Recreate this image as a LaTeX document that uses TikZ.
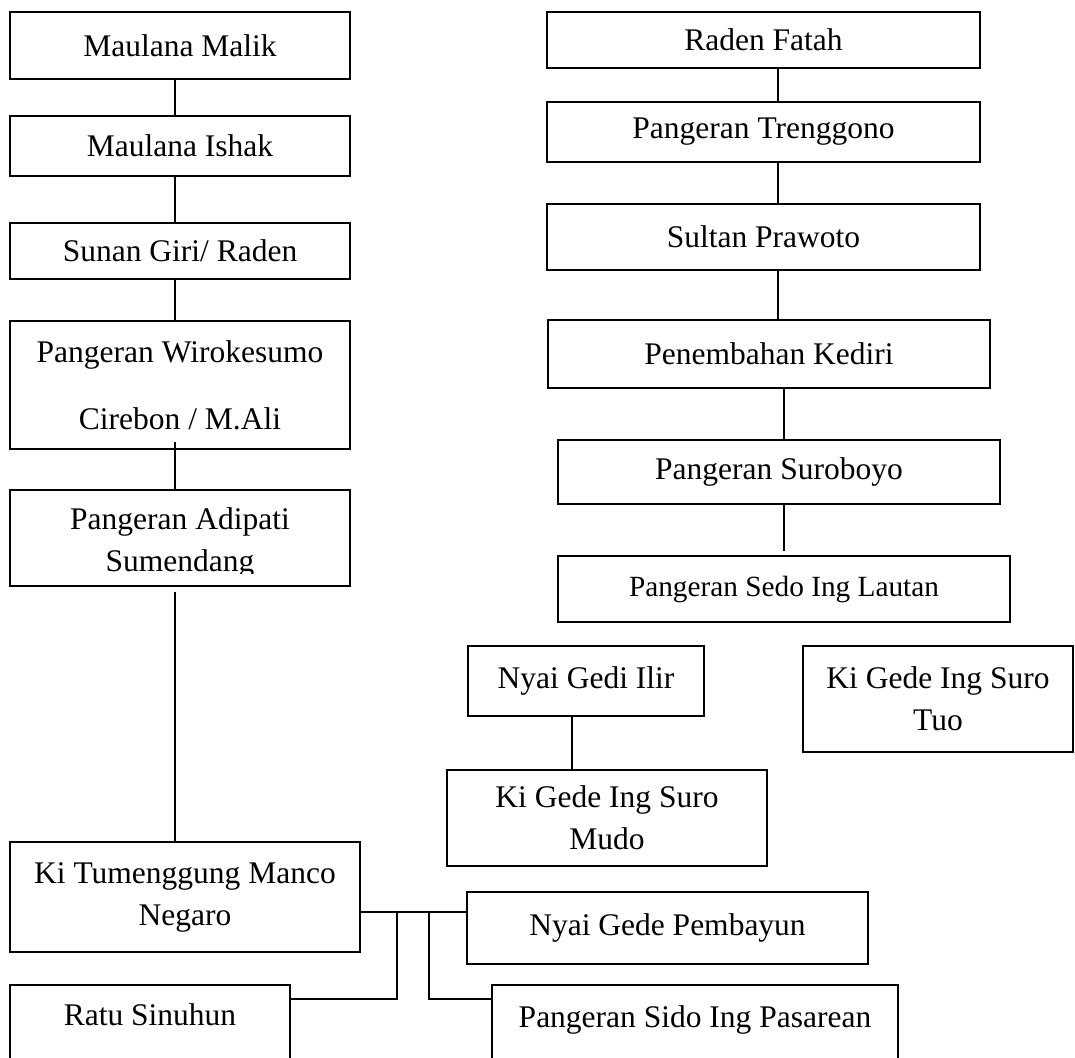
\documentclass[tikz,border=0pt]{standalone}
\usepackage{fontspec}
\setmainfont{Liberation Serif}
\usetikzlibrary{positioning, calc}

\begin{document}
\begin{tikzpicture}[
    x=1pt, y=-1pt,
    person/.style={
        rectangle,
        draw,
        line width=1.8pt,
        inner sep=0pt,
        align=center,
        font=\fontsize{31.5}{42}\selectfont
    },
    link/.style={
        line width=1.8pt
    }
]
\clip (0,0) rectangle (1075,1057);

% Left lineage
\node[person, minimum width=340pt, minimum height=67pt] (malik) at (180,45.5) {Maulana Malik};
\node[person, minimum width=340pt, minimum height=60pt] (ishak) at (180,146) {Maulana Ishak};
\node[person, minimum width=340pt, minimum height=56pt] (giri) at (180,251) {Sunan Giri/ Raden};
\node[person, minimum width=340pt, minimum height=128pt] (wiro) at (180,385) {Pangeran Wirokesumo\\[25pt]Cirebon / M.Ali};
\node[person, minimum width=340pt, minimum height=96pt] (adipati) at (180,538) {};
\begin{scope}
    \clip (10,490) rectangle (350,573);
    \node[person, draw=none] (adipatiname) at (180,543) {Pangeran Adipati\\Sumendang};
\end{scope}
\node[person, minimum width=350pt, minimum height=110pt] (tumenggung) at (185,897) {Ki Tumenggung Manco\\Negaro};

% Children of Ki Tumenggung
\node[person, minimum width=401pt, minimum height=72pt] (pembayun) at (667.5,928) {Nyai Gede Pembayun};
\node[person, anchor=north, minimum width=280pt, text height=41pt, text depth=60pt] (ratu) at (150,984) {Ratu Sinuhun};
\node[person, anchor=north, minimum width=406pt, text height=43pt, text depth=60pt] (sido) at (695,984) {Pangeran Sido Ing Pasarean};

% Right lineage
\node[person, minimum width=433pt, minimum height=56pt] (fatah) at (763.5,40) {Raden Fatah};
\node[person, minimum width=433pt, minimum height=60pt] (trenggono) at (763.5,132) {Pangeran Trenggono};
\node[person, minimum width=433pt, minimum height=66pt] (prawoto) at (763.5,237) {Sultan Prawoto};
\node[person, minimum width=442pt, minimum height=68pt] (kediri) at (769,354) {Penembahan Kediri};
\node[person, minimum width=442pt, minimum height=64pt] (suroboyo) at (779,472) {Pangeran Suroboyo};
\node[person, minimum width=452pt, minimum height=66pt, font=\fontsize{29.3}{36}\selectfont] (sedo) at (784,589) {Pangeran Sedo Ing Lautan};
\node[person, minimum width=236pt, minimum height=70pt] (gediilir) at (586,681) {Nyai Gedi Ilir};
\node[person, minimum width=320pt, minimum height=96pt] (suromudo) at (607,818) {Ki Gede Ing Suro\\Mudo};
\node[person, minimum width=270pt, minimum height=106pt] (surotuo) at (938,699) {Ki Gede Ing Suro\\Tuo};

% Spines
\coordinate (spineL) at (175,0);
\coordinate (spineR) at (778,0);
\coordinate (spineS) at (784,0);
\coordinate (spineG) at (572,0);

% Left connectors
\draw[link] (malik.south -| spineL) -- (ishak.north -| spineL);
\draw[link] (ishak.south -| spineL) -- (giri.north -| spineL);
\draw[link] (giri.south -| spineL) -- (wiro.north -| spineL);
\draw[link] ($(wiro.south -| spineL)+(0,-8)$) -- (adipati.north -| spineL);
\draw[link] ($(adipati.south -| spineL)+(0,5)$) -- (tumenggung.north -| spineL);

% Right connectors
\draw[link] (fatah.south -| spineR) -- (trenggono.north -| spineR);
\draw[link] (trenggono.south -| spineR) -- (prawoto.north -| spineR);
\draw[link] (prawoto.south -| spineR) -- (kediri.north -| spineR);
\draw[link] (kediri.south -| spineS) -- (suroboyo.north -| spineS);
\draw[link] (suroboyo.south -| spineS) -- ($(sedo.north -| spineS)+(0,-4)$);
\draw[link] (gediilir.south -| spineG) -- (suromudo.north -| spineG);

% Family bus
\coordinate (trunk) at (0,912);
\coordinate (footY) at (0,999);
\coordinate (legA) at (397,912);
\coordinate (legB) at (429,912);
\draw[link] (tumenggung.east |- trunk) -- (pembayun.west |- trunk);
\draw[link] (legA) |- (ratu.east |- footY);
\draw[link] (legB) |- (sido.west |- footY);

\end{tikzpicture}
\end{document}
